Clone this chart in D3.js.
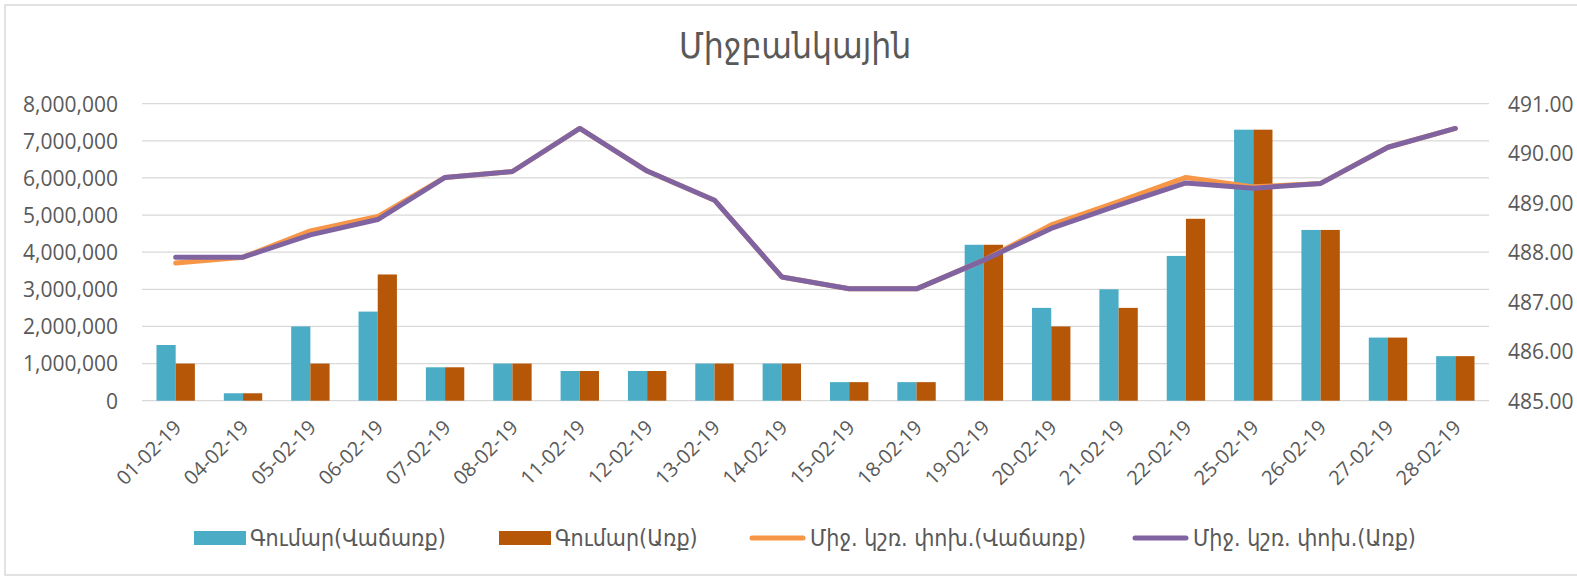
<!DOCTYPE html>
<html>
<head>
<meta charset="utf-8">
<script src="https://cdn.jsdelivr.net/npm/d3@7"></script>
<style>
  html, body { margin: 0; padding: 0; background: #fff; }
  svg { display: block; }
  .tick-label { font-family: "Open Sans", "Liberation Sans", sans-serif; fill: #595959; }
  .arm { font-family: "DejaVu Sans Condensed", "DejaVu Sans", sans-serif; font-stretch: condensed; fill: #595959; }
</style>
</head>
<body>
<svg id="chart" width="1577" height="576"></svg>
<script>
// ---- Data ----
const categories = ["01-02-19","04-02-19","05-02-19","06-02-19","07-02-19","08-02-19","11-02-19","12-02-19","13-02-19","14-02-19","15-02-19","18-02-19","19-02-19","20-02-19","21-02-19","22-02-19","25-02-19","26-02-19","27-02-19","28-02-19"];
const amountSell = [1500000,200000,2000000,2400000,900000,1000000,800000,800000,1000000,1000000,500000,500000,4200000,2500000,3000000,3900000,7300000,4600000,1700000,1200000];
const amountBuy  = [1000000,200000,1000000,3400000,900000,1000000,800000,800000,1000000,1000000,500000,500000,4200000,2000000,2500000,4900000,7300000,4600000,1700000,1200000];
const rateSell = [487.78,487.90,488.43,488.72,489.51,489.63,490.50,489.64,489.05,487.50,487.26,487.26,487.84,488.55,489.02,489.51,489.32,489.39,490.12,490.50];
const rateBuy  = [487.90,487.90,488.35,488.66,489.51,489.63,490.50,489.64,489.05,487.50,487.26,487.26,487.84,488.48,488.95,489.40,489.29,489.39,490.12,490.50];
const leftTicks = [0,1000000,2000000,3000000,4000000,5000000,6000000,7000000,8000000];
const rightTicks = [485,486,487,488,489,490,491];
const title = "Միջբանկային";
const seriesNames = ["Գումար(Վաճառք)","Գումար(Առք)","Միջ. կշռ. փոխ.(Վաճառք)","Միջ. կշռ. փոխ.(Առք)"];
const colors = ["#4BACC6","#B65708","#F79646","#8064A2"];

// ---- Layout ----
const svg = d3.select("#chart");
const W = 1577, H = 576;
const plot = {left: 142, right: 1489, top: 103.7, bottom: 400.7};

// chart border
svg.append("rect").attr("x",5).attr("y",5).attr("width",W+10).attr("height",570)
  .attr("fill","none").attr("stroke","#D9D9D9").attr("stroke-width",1.5);

const x = d3.scaleBand().domain(categories).range([plot.left, plot.right]).paddingInner(0.43).paddingOuter(0.215);
const xi = d3.scaleBand().domain([0,1]).range([0, x.bandwidth()]);
const xc = d3.scaleBand().domain(categories).range([plot.left, plot.right]);
const yL = d3.scaleLinear().domain([0, 8000000]).range([plot.bottom, plot.top]);
const yR = d3.scaleLinear().domain([485, 491]).range([plot.bottom, plot.top]);

// gridlines
svg.append("g").selectAll("line").data(leftTicks).join("line")
  .attr("x1", plot.left).attr("x2", plot.right)
  .attr("y1", d => yL(d)).attr("y2", d => yL(d))
  .attr("stroke", "#D9D9D9").attr("stroke-width", 1.3);

// left axis
const fmt = d3.format(",");
const gL = svg.append("g").attr("transform", `translate(${plot.left - 24},0)`)
  .call(d3.axisLeft(yL).tickValues(leftTicks).tickFormat(fmt).tickSize(0).tickPadding(0));
gL.select(".domain").remove();
gL.selectAll("text").attr("class","tick-label").attr("font-size", 21).attr("dy","0.35em");

// right axis
const gR = svg.append("g").attr("transform", `translate(${plot.right + 19},0)`)
  .call(d3.axisRight(yR).tickValues(rightTicks).tickFormat(d3.format(".2f")).tickSize(0).tickPadding(0));
gR.select(".domain").remove();
gR.selectAll("text").attr("class","tick-label").attr("font-size", 21).attr("dy","0.35em");

// x axis labels
const gX = svg.append("g").attr("transform", `translate(0,${plot.bottom})`)
  .call(d3.axisBottom(xc).tickSize(0).tickPadding(0));
gX.select(".domain").remove();
gX.selectAll("text").attr("class","tick-label").attr("font-size", 20)
  .attr("text-anchor","end")
  .attr("transform","translate(-3,18) rotate(-45)")
  .attr("dy","0.7em").attr("y",0).attr("x",0);

// bars
const bars = svg.append("g");
[amountSell, amountBuy].forEach((arr, si) => {
  bars.append("g").selectAll("rect").data(arr).join("rect")
    .attr("x", (d,i) => x(categories[i]) + xi(si))
    .attr("width", xi.bandwidth())
    .attr("y", d => yL(d))
    .attr("height", d => yL(0) - yL(d))
    .attr("fill", colors[si]);
});

// lines
const line = d3.line().x((d,i) => xc(categories[i]) + xc.bandwidth()/2).y(d => yR(d));
[[rateSell, colors[2]], [rateBuy, colors[3]]].forEach(([arr, c]) => {
  svg.append("path").datum(arr).attr("d", line)
    .attr("fill","none").attr("stroke", c).attr("stroke-width", 5)
    .attr("stroke-linejoin","round").attr("stroke-linecap","round");
});

// title
svg.append("text").attr("class","arm").attr("x", 795).attr("y", 58)
  .attr("text-anchor","middle").attr("font-size", 35).text(title);

// legend
const legendX = [194, 499, 750, 1133];
const ly = 538;
const lg = svg.append("g");
seriesNames.forEach((name, i) => {
  const g = lg.append("g").attr("transform", `translate(${legendX[i]},${ly})`);
  if (i < 2) {
    g.append("rect").attr("x",0).attr("y",-7).attr("width",52).attr("height",14).attr("fill",colors[i]);
  } else {
    g.append("line").attr("x1",2).attr("x2",53).attr("y1",0).attr("y2",0)
      .attr("stroke",colors[i]).attr("stroke-width",5).attr("stroke-linecap","round");
  }
  g.append("text").attr("class","arm").attr("x", i < 2 ? 56 : 60).attr("y",0).attr("dy","0.35em")
    .attr("font-size", 23).text(name);
});
</script>
</body>
</html>
